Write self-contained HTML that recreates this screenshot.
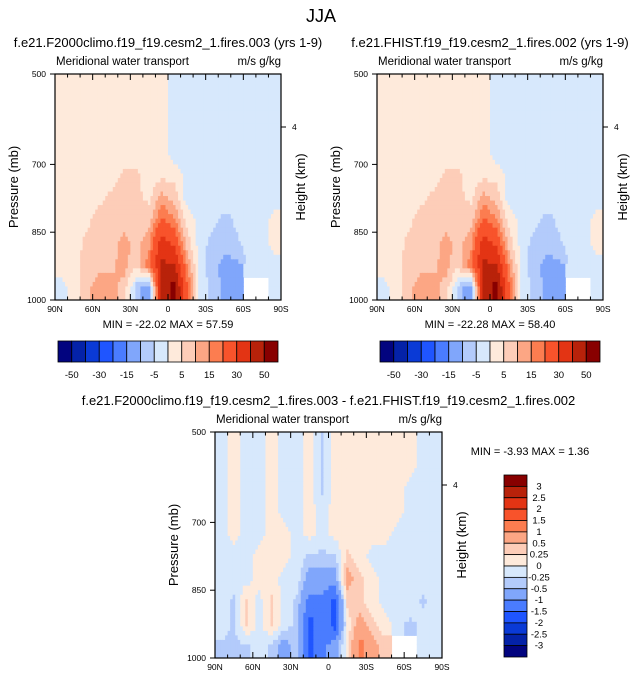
<!DOCTYPE html>
<html><head><meta charset="utf-8"><style>
body{margin:0;background:#fff;}
svg{display:block;font-family:"Liberation Sans",sans-serif;}
</style></head><body>
<svg id="s" width="643" height="683" viewBox="0 0 643 683">
<text x="321" y="22" font-size="18" text-anchor="middle">JJA</text>
</svg>
<script>
const latTicks=["90N","60N","30N","0","30S","60S","90S"];
const presTicks=[500,700,850,1000];
const levelsTop=[-50,-40,-30,-20,-15,-10,-5,0,5,10,15,20,30,40,50];
const levelsDiff=[-3,-2.5,-2,-1.5,-1,-0.5,-0.25,0,0.25,0.5,1,1.5,2,2.5,3];
const colors=["#02047f","#0422a8","#0a3ad6","#1f55ff","#4a7cff","#80a6fb","#b3cbfb","#d7e8fc","#feeadb","#fdcdb8","#fca684","#fc7d50","#f8532b","#e33414","#b8220a","#880000"];
const gridA=[
[2,2,2,2,2,2,2,2,2,-2,-2,-2,-2,-2,-2,-2,-2,-2],
[2,2,2,2,2,2,2,2,2,-2,-2,-2,-2,-2,-2,-2,-2,-2],
[2,2,2,2,2,2,2,2,2,-2,-2,-2,-2,-2,-2,-2,-2,-2],
[2,2,2,2,2,2,2,2,2,-2,-2,-2,-2,-2,-2,-2,-2,-2],
[2,2,2,2,3,6,6,2,4,3,-2,-2,-2,-2,-2,-2,-2,-2],
[2,2,2,4,6,7,6,4,12,8,-2,-2,-2,-2,-2,-2,-2,-2],
[2,2,4,7,8,8,7,8,22,16,3,-2,-3,-7,-4,-2,-2,2],
[2,3,6,8,8,12,8,14,35,28,8,-2,-7,-8,-6,-2,-2,2],
[2,3,7,8,9,12,6,18,42,40,16,-2,-8,-12,-12,-3,-2,-2],
[-2,2,9,13,12,8,-8,-15,42,55,22,-2,-6,-12,-12,null,null,-2]];
const gridB=[
[2,2,2,2,2,2,2,2,2,-2,-2,-2,-2,-2,-2,-2,-2,-2],
[2,2,2,2,2,2,2,2,2,-2,-2,-2,-2,-2,-2,-2,-2,-2],
[2,2,2,2,2,2,2,2,2,-2,-2,-2,-2,-2,-2,-2,-2,-2],
[2,2,2,2,2,2,2,2,2,-2,-2,-2,-2,-2,-2,-2,-2,-2],
[2,2,2,2,3,6,6,2,4,3,-2,-2,-2,-2,-2,-2,-2,-2],
[2,2,2,4,6,7,6,4,12,8,-2,-2,-2,-2,-2,-2,-2,-2],
[2,2,4,7,8,8,7,8,22,16,3,-2,-3,-7,-4,-2,-2,2],
[2,3,6,8,8,12,8,14,35,28,8,-2,-7,-8,-6,-2,-2,2],
[2,3,7,8,9,12,6,18,42,40,16,-2,-8,-12,-12,-3,-2,-2],
[-2,2,9,13,12,8,-7,-15,42,55,22,-2,-6,-12,-12,null,null,-2]];
const gridD=[
[-0.1,0.1,-0.1,-0.1,0.1,-0.1,-0.1,0.1,-0.3,0.1,0.1,0.1,0.1,0.1,0.1,0.1,-0.1,-0.1],
[-0.1,0.1,-0.1,-0.1,0.1,-0.1,-0.1,0.1,-0.3,0.1,0.1,0.1,0.1,0.1,0.1,0.1,-0.1,-0.1],
[-0.1,0.1,-0.1,-0.1,0.1,-0.1,-0.1,0.1,-0.3,0.1,0.1,0.1,0.1,0.1,0.1,-0.1,-0.1,-0.1],
[-0.1,0.1,-0.1,-0.1,0.1,-0.1,-0.1,0.1,-0.1,0.1,0.1,0.1,0.1,0.1,0.1,-0.1,-0.1,-0.1],
[-0.1,0.1,-0.1,-0.1,0.1,0.1,-0.1,0.1,-0.1,0.1,0.1,0.1,0.1,0.1,-0.1,-0.1,-0.1,-0.1],
[-0.1,-0.1,-0.1,0.1,0.1,0.1,-0.1,-0.3,-0.3,-0.3,0.3,0.1,-0.1,-0.1,-0.1,-0.1,-0.1,-0.1],
[-0.1,-0.1,-0.1,0.1,0.1,-0.1,-0.1,-0.7,-0.7,-0.7,0.7,0.3,0.1,-0.1,-0.1,-0.1,-0.1,-0.1],
[-0.1,-0.3,0.3,-0.1,0.3,-0.1,-0.3,-1.2,-1.2,-1.7,0.3,0.3,0.1,-0.1,-0.1,-0.1,-0.3,-0.1],
[-0.1,-0.3,0.3,-0.1,0.3,-0.1,-0.3,-1.7,-1.2,-1.7,0.1,0.7,0.3,0.1,-0.1,-0.3,-0.1,-0.1],
[-0.3,-0.3,-0.3,-0.1,-0.3,-0.7,-0.3,-1.7,-1.2,-0.7,0.1,1.2,0.7,0.3,null,null,-0.1,-0.1]];

const NS="http://www.w3.org/2000/svg";
const svg=document.getElementById('s');
function mk(tag,attrs,parent){const e=document.createElementNS(NS,tag);for(const k in attrs)e.setAttribute(k,attrs[k]);(parent||svg).appendChild(e);return e;}
function colorFor(v,lv){let i=0;while(i<lv.length&&v>=lv[i])i++;return colors[i];}
function sample(grid,fx,fy){
  const nr=grid.length,nc=grid[0].length;
  const ci=Math.min(nc-1,Math.max(0,Math.floor(fx))),ri=Math.min(nr-1,Math.max(0,Math.floor(fy)));
  if(grid[ri][ci]===null)return null;
  let gx=Math.min(nc-1,Math.max(0,fx-0.5)),gy=Math.min(nr-1,Math.max(0,fy-0.5));
  const c0=Math.floor(gx),r0=Math.floor(gy),c1=Math.min(nc-1,c0+1),r1=Math.min(nr-1,r0+1);
  const tx=gx-c0,ty=gy-r0;
  const a=grid[r0][c0],b=grid[r0][c1],c=grid[r1][c0],d=grid[r1][c1];
  if(a===null||b===null||c===null||d===null)return grid[ri][ci];
  return a*(1-tx)*(1-ty)+b*tx*(1-ty)+c*(1-tx)*ty+d*tx*ty;
}

function panel(name,x0,y0,w,h,grid,lv,title,minmax,mmx,mmy){
  const g=mk('g',{});
  
  
  const xs=lat=>x0+(90-lat)/180*w;
  const ys=p=>y0+(p-500)/500*h;
  const nc=grid[0].length,nr=grid.length,S=5;
  const sw=w/(nc*S),sh=h/(nr*S);
  for(let j=0;j<nr*S;j++)for(let i=0;i<nc*S;i++){
    const v=sample(grid,(i+0.5)/S,(j+0.5)/S); if(v===null)continue;
    const rc=mk('rect',{x:(x0+i*sw).toFixed(2),y:(y0+j*sh).toFixed(2),width:(sw+0.5).toFixed(2),height:(sh+0.5).toFixed(2),fill:colorFor(v,lv)},g);
    
    
  }
  const fr=mk('rect',{x:x0,y:y0,width:w,height:h,fill:'none',stroke:'#000','stroke-width':1.2},g);
  
  
  for(let k=0;k<=18;k++){
    const lat=90-k*10,x=xs(lat),L=(k%3==0)?6:3.5;
    mk('line',{x1:x,y1:y0,x2:x,y2:y0+L,stroke:'#000'},g);
    mk('line',{x1:x,y1:y0+h,x2:x,y2:y0+h-L,stroke:'#000'},g);
  }
  latTicks.forEach((t,i)=>{
    const tx=mk('text',{x:xs(90-i*30),y:y0+h+12,'font-size':8.5,'text-anchor':'middle'},g);
    tx.textContent=t;
    
    
  });
  presTicks.forEach(p=>{
    mk('line',{x1:x0-5,y1:ys(p),x2:x0,y2:ys(p),stroke:'#000'},g);
    const tx=mk('text',{x:x0-9,y:ys(p)+3,'font-size':8.5,'text-anchor':'end'},g);
    tx.textContent=p;
    
    
  });
  const hy=y0+(127-74)/226*h;
  mk('line',{x1:x0+w,y1:hy,x2:x0+w+5,y2:hy,stroke:'#000'},g);
  const t4=mk('text',{x:x0+w+11,y:hy+3,'font-size':8.5},g);t4.textContent='4';
  
  
  const yl=mk('text',{x:0,y:0,'font-size':13,'text-anchor':'middle',transform:`translate(${x0-37},${y0+h/2}) rotate(-90)`},g);
  yl.textContent='Pressure (mb)';
  
  
  const hl=mk('text',{x:0,y:0,'font-size':13,'text-anchor':'middle',transform:`translate(${x0+w+24},${y0+h/2}) rotate(-90)`},g);
  hl.textContent='Height (km)';
  
  
  const lt=mk('text',{x:x0+1,y:y0-9,'font-size':11.5},g);lt.textContent='Meridional water transport';
  
  
  const rt=mk('text',{x:x0+w,y:y0-9,'font-size':11.5,'text-anchor':'end'},g);rt.textContent='m/s g/kg';
  
  
  const tt=mk('text',{x:x0+w/2,y:y0-27,'font-size':13,'text-anchor':'middle'},g);tt.textContent=title;
  
  
  const mm=mk('text',{x:mmx,y:mmy,'font-size':11,'text-anchor':'middle','xml:space':'preserve'},g);mm.textContent=minmax;
  
  
}

function hbar(name,x0,y0,w,h){
  const g=mk('g',{});
  
  
  const bw=w/colors.length;
  colors.forEach((c,i)=>{
    const r=mk('rect',{x:x0+i*bw,y:y0,width:bw,height:h,fill:c,stroke:'#000','stroke-width':0.8},g);
    
    
  });
  levelsTop.forEach((v,i)=>{ if(i%2)return;
    const t=mk('text',{x:x0+(i+1)*bw,y:y0+h+16,'font-size':9.5,'text-anchor':'middle'},g);t.textContent=v;
    
    
  });
}
function vbar(name,x0,y0,w,h){
  const g=mk('g',{});
  
  
  const bh=h/colors.length;
  colors.slice().reverse().forEach((c,i)=>{
    const r=mk('rect',{x:x0,y:y0+i*bh,width:w,height:bh,fill:c,stroke:'#000','stroke-width':0.8},g);
    
    
  });
  levelsDiff.slice().reverse().forEach((v,i)=>{
    const t=mk('text',{x:x0+w+12,y:y0+(i+1)*bh+3,'font-size':9.5,'text-anchor':'middle'},g);t.textContent=v;
    
    
  });
}

panel('panel-f2000climo',55,74,226,226,gridA,levelsTop,'f.e21.F2000climo.f19_f19.cesm2_1.fires.003 (yrs 1-9)','MIN = -22.02  MAX =  57.59',168,328);
panel('panel-fhist',377,74,226,226,gridB,levelsTop,'f.e21.FHIST.f19_f19.cesm2_1.fires.002 (yrs 1-9)','MIN = -22.28  MAX =  58.40',490,328);
panel('panel-difference',215,432,227,226,gridD,levelsDiff,'f.e21.F2000climo.f19_f19.cesm2_1.fires.003 - f.e21.FHIST.f19_f19.cesm2_1.fires.002','MIN =  -3.93  MAX =   1.36',530,455);
hbar('colorbar-top-left',58,341,220,21);
hbar('colorbar-top-right',380,341,220,21);
vbar('colorbar-difference',504,475,23,182);
</script>
</body></html>
